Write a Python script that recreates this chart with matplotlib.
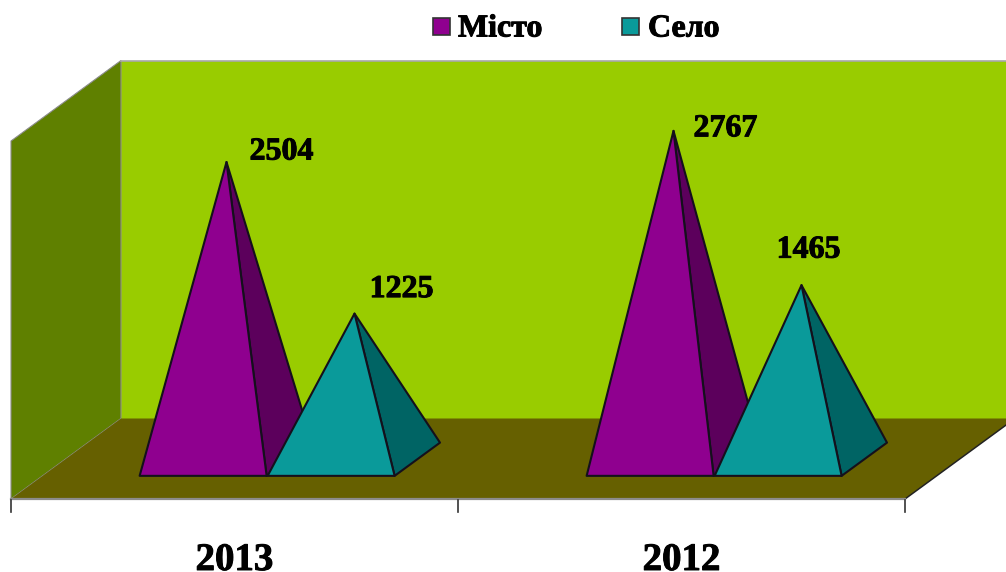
"""Пірамідальна 3D-діаграма: Місто / Село, 2013 і 2012."""
import matplotlib.pyplot as plt
import matplotlib.patheffects as pe
from matplotlib.patches import Polygon, Rectangle

YEARS = ["2013", "2012"]
MISTO = [2504, 2767]
SELO = [1225, 1465]
LEGEND_LABELS = ["Місто", "Село"]

# косокутна проекція, все в пікселях картинки
X0, Y0 = 11, 499  # передній лівий кут підлоги
CAT_W = 447
DEPTH_X, DEPTH_Y = 110, -80.5
PX_PER_UNIT = 0.1185
WALL_H = 358
BAR_W = 127
BASE_FRONT, BASE_BACK = 0.2875, 0.7

WALL = "#99cc00"
SIDE_WALL = "#5f8000"
FLOOR = "#666000"
COLORS = {"Місто": ("#8f008f", "#5c005c"), "Село": ("#0a9a9a", "#006464")}
EDGE = "#14101c"

FONT = ["Liberation Serif", "DejaVu Serif"]
BOLDER = [pe.withStroke(linewidth=0.7, foreground="black")]


def proj(x, depth=0.0, h=0.0):
    """x у пікселях по фронту, depth 0..1, h у пікселях вгору."""
    return x + depth * DEPTH_X, Y0 + depth * DEPTH_Y - h


def pyramid(ax, x_left, value, name):
    front, side = COLORS[name]
    x_right = x_left + BAR_W
    apex = proj((x_left + x_right) / 2, 0.5, value * PX_PER_UNIT)
    fl = proj(x_left, BASE_FRONT)
    fr = proj(x_right, BASE_FRONT)
    br = proj(x_right, BASE_BACK)
    ax.add_patch(Polygon([fr, br, apex], fc=side, ec=EDGE, lw=1.5, joinstyle="round"))
    ax.add_patch(Polygon([fl, fr, apex], fc=front, ec=EDGE, lw=1.5, joinstyle="round"))
    return apex


fig = plt.figure(figsize=(10.06, 5.72), dpi=100)
ax = fig.add_axes([0, 0, 1, 1])
ax.set_xlim(0, 1006)
ax.set_ylim(572, 0)
ax.axis("off")

x_end = X0 + CAT_W * len(YEARS)

# стіни і підлога
ax.add_patch(Polygon(
    [proj(X0, 1), proj(x_end, 1), proj(x_end, 1, WALL_H), proj(X0, 1, WALL_H)],
    fc=WALL, ec="none"))
ax.plot([proj(X0, 1, WALL_H)[0], 1006], [proj(X0, 1, WALL_H)[1]] * 2, color="#a8a8a8", lw=1.2)
ax.add_patch(Polygon(
    [proj(X0), proj(X0, 1), proj(X0, 1, WALL_H), proj(X0, 0, WALL_H)],
    fc=SIDE_WALL, ec="#8c8c8c", lw=0.8))
ax.add_patch(Polygon(
    [proj(X0), proj(x_end), proj(x_end, 1), proj(X0, 1)],
    fc=FLOOR, ec="none"))
ax.plot(*zip(proj(x_end), proj(x_end, 1)), color="#222222", lw=1.1)
ax.plot(*zip(proj(X0), proj(x_end)), color="#8c8c8c", lw=1.6)

# поділки осі
for i in range(len(YEARS) + 1):
    tx = X0 + CAT_W * i
    ax.plot([tx, tx], [Y0 + 1, Y0 + 13], color="#333333", lw=1.2)

# підписи даних підібрані вручну, як у вихідній картинці
OFFSETS = {("Місто", 0): (55, -10), ("Місто", 1): (52, -2),
           ("Село", 0): (47, -24), ("Село", 1): (7, -35)}

for i, year in enumerate(YEARS):
    left = X0 + CAT_W * i + 97
    apex_m = pyramid(ax, left, MISTO[i], "Місто")
    apex_s = pyramid(ax, left + BAR_W + 1, SELO[i], "Село")
    for name, apex, val in (("Місто", apex_m, MISTO[i]), ("Село", apex_s, SELO[i])):
        dx, dy = OFFSETS[(name, i)]
        ax.text(apex[0] + dx, apex[1] + dy, str(val), ha="center", va="center",
                family=FONT, fontweight="bold", fontsize=23, color="black",
                path_effects=BOLDER)
    ax.text(X0 + CAT_W * i + CAT_W / 2, 570, year, ha="center", va="baseline",
            family=FONT, fontweight="bold", fontsize=28, color="black",
            path_effects=BOLDER)

# легенда
for x_box, x_text, name in zip((433, 622), (458, 648), LEGEND_LABELS):
    ax.add_patch(Rectangle((x_box, 18), 17, 17, fc=COLORS[name][0], ec="#333333", lw=1.2))
    ax.text(x_text, 29, name, ha="left", va="center",
            family=FONT, fontweight="bold", fontsize=23, color="black",
            path_effects=BOLDER)

fig.savefig("out.png", dpi=100)
